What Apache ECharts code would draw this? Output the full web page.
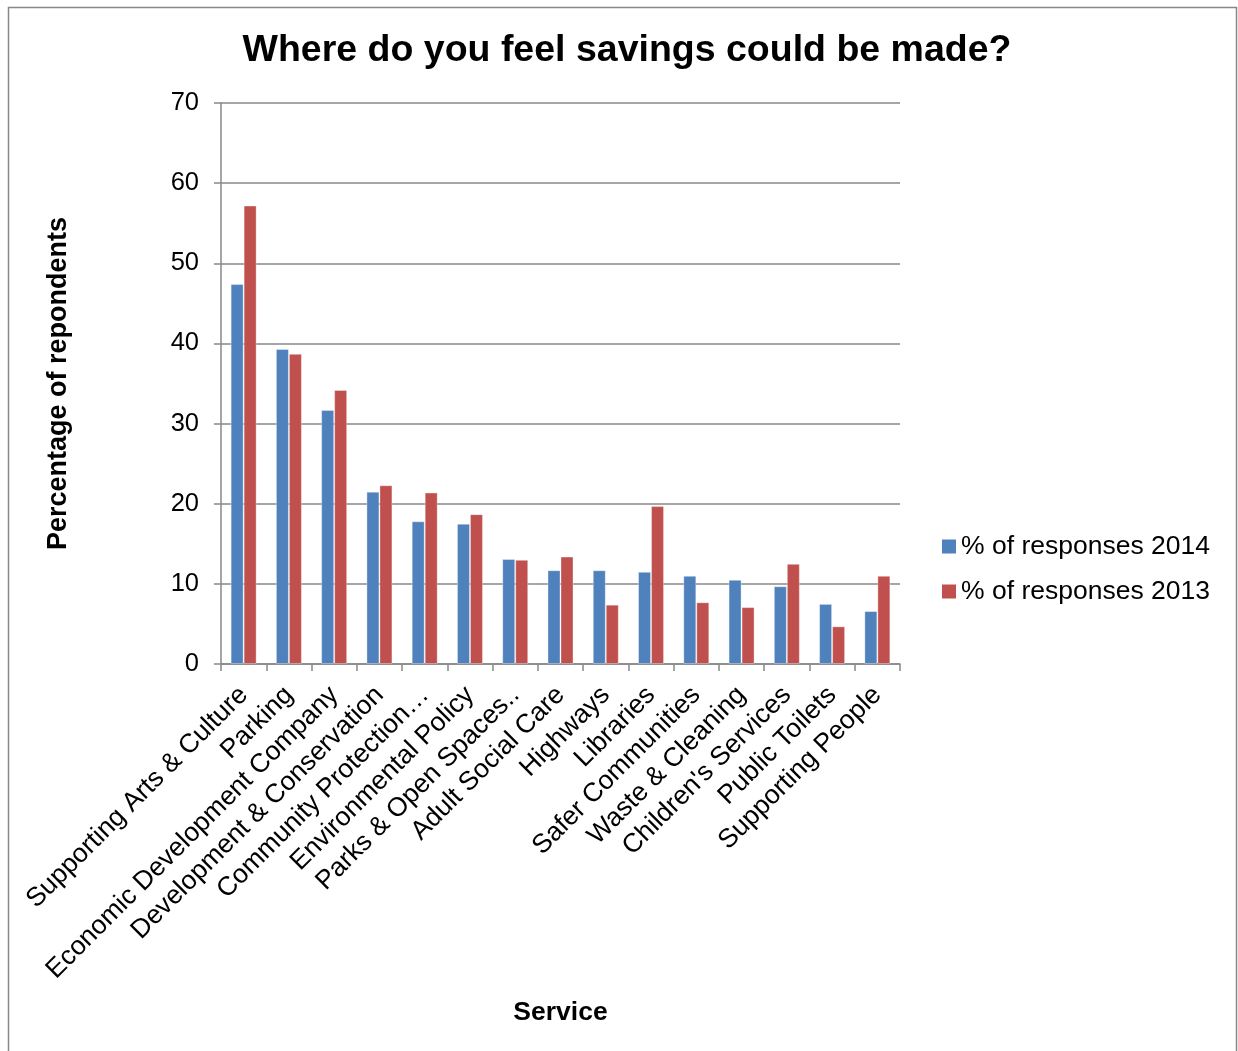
<!DOCTYPE html>
<html>
<head>
<meta charset="utf-8">
<script src="https://cdn.jsdelivr.net/npm/echarts@6/dist/echarts.min.js"></script>
<style>html,body{margin:0;padding:0;background:#fff;}#c{width:1238px;height:1051px;}</style>
</head>
<body>
<div id="c"></div>
<script>
const categories = ["Supporting Arts & Culture","Parking","Economic Development Company","Development & Conservation","Community Protection\u2026","Environmental Policy","Parks & Open Spaces..","Adult Social Care","Highways","Libraries","Safer Communities","Waste & Cleaning","Children's Services","Public Toilets","Supporting People"];
const responses2014 = [47.4, 39.3, 31.7, 21.5, 17.8, 17.5, 13.1, 11.7, 11.7, 11.5, 11.0, 10.5, 9.7, 7.5, 6.6];
const responses2013 = [57.2, 38.7, 34.2, 22.3, 21.4, 18.7, 13.0, 13.4, 7.4, 19.7, 7.7, 7.1, 12.5, 4.7, 11.0];
const yTicks = [0, 10, 20, 30, 40, 50, 60, 70];

const chart = echarts.init(document.getElementById('c'), null, {renderer: 'canvas'});
const font = 'Liberation Sans, Arial, sans-serif';
chart.setOption({
  animation: false,
  backgroundColor: '#fff',
  graphic: [{
    type: 'rect', shape: {x: 8.5, y: 7.5, width: 1228, height: 1060},
    style: {fill: 'none', stroke: '#888', lineWidth: 1.5}, silent: true
  }],
  title: {
    text: 'Where do you feel savings could be made?',
    left: 622, top: 27, textAlign: 'center',
    textStyle: {fontFamily: font, fontSize: 37.5, fontWeight: 'bold', color: '#000'}
  },
  legend: {
    orient: 'vertical', left: 942, top: 533, padding: 0, itemWidth: 14, itemHeight: 14, itemGap: 18,
    icon: 'rect',
    textStyle: {fontFamily: font, fontSize: 26.5, color: '#000', padding: [0, 0, 0, 0]},
    itemStyle: {borderWidth: 0},
    data: ['% of responses 2014', '% of responses 2013']
  },
  grid: {left: 221, right: 338, top: 103, bottom: 387, containLabel: false},
  xAxis: {
    type: 'category', data: categories,
    name: 'Service', nameLocation: 'middle', nameGap: 335,
    nameTextStyle: {fontFamily: font, fontSize: 26.5, fontWeight: 'bold', color: '#000'},
    axisLine: {lineStyle: {color: '#888', width: 1.5}},
    axisTick: {show: true, length: 7, lineStyle: {color: '#888', width: 1.5}, alignWithLabel: false},
    axisLabel: {rotate: 45, interval: 0, margin: 27, fontFamily: font, fontSize: 26.5, color: '#000'}
  },
  yAxis: {
    type: 'value', min: yTicks[0], max: yTicks[yTicks.length - 1], interval: 10,
    name: 'Percentage of repondents', nameLocation: 'middle', nameGap: 149, nameRotate: 90,
    nameTextStyle: {fontFamily: font, fontSize: 27, fontWeight: 'bold', color: '#000'},
    axisLine: {show: true, lineStyle: {color: '#888', width: 1.5}},
    axisTick: {show: true, length: 7, lineStyle: {color: '#888', width: 1.5}},
    axisLabel: {margin: 22, fontFamily: font, fontSize: 25.5, color: '#000'},
    splitLine: {lineStyle: {color: '#888', width: 1.5}}
  },
  series: [
    {name: '% of responses 2014', type: 'bar', data: responses2014, barWidth: 13, barGap: '0%',
     itemStyle: {color: '#4F81BD', borderColor: 'rgba(255,255,255,0.35)', borderWidth: 1}},
    {name: '% of responses 2013', type: 'bar', data: responses2013, barWidth: 13, barGap: '0%',
     itemStyle: {color: '#C0504D', borderColor: 'rgba(255,255,255,0.35)', borderWidth: 1}}
  ]
});
</script>
</body>
</html>
